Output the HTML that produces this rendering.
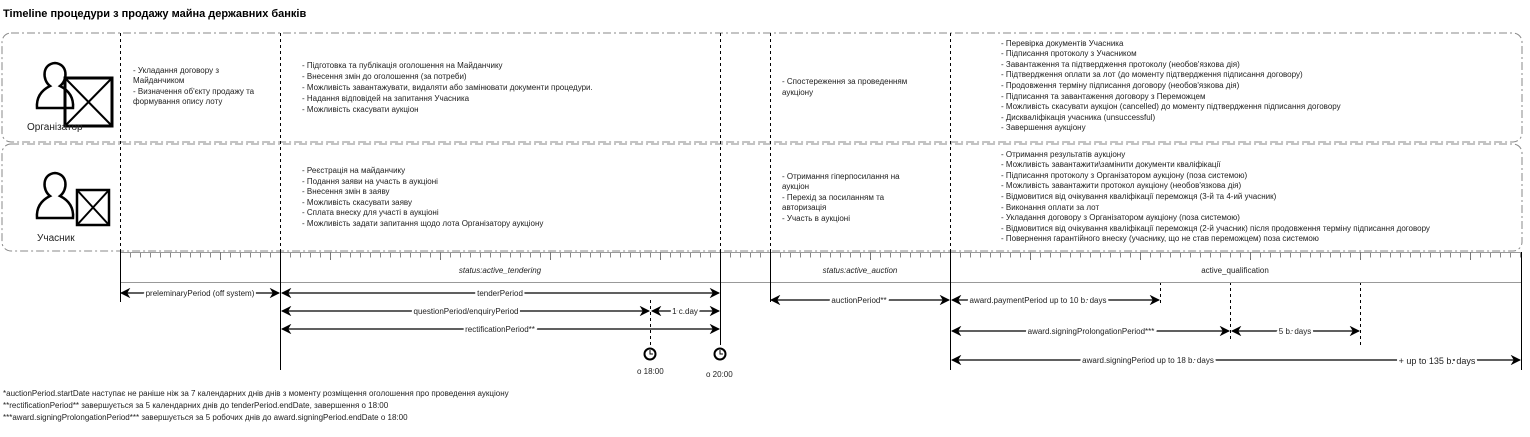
<!DOCTYPE html>
<html><head><meta charset="utf-8"><style>
body{margin:0;background:#fff}
svg{display:block;font-family:"Liberation Sans",Arial,sans-serif}
text{fill:#222;font-size:8px}
</style></head><body>
<svg width="1530" height="437" viewBox="0 0 1530 437" xmlns="http://www.w3.org/2000/svg">
<defs>
<marker id="a" viewBox="0 0 10 10" refX="9" refY="5" markerWidth="8" markerHeight="8" orient="auto-start-reverse"><path d="M0,0 L10,5 L0,10 L3,5z" fill="#000"/></marker>
</defs>
<text x="3" y="17" style="font-size:11px;font-weight:bold;fill:#000">Timeline процедури з продажу майна державних банків</text>
<rect x="2" y="33" width="1520" height="109" rx="9" fill="none" stroke="#888" stroke-dasharray="8,3,2,3"/>
<rect x="2" y="144" width="1520" height="107" rx="9" fill="none" stroke="#888" stroke-dasharray="8,3,2,3"/>
<g stroke="#000" stroke-dasharray="3,3" stroke-width="1">
<line x1="120.5" y1="33" x2="120.5" y2="252"/><line x1="280.5" y1="33" x2="280.5" y2="252"/>
<line x1="720.5" y1="33" x2="720.5" y2="252"/><line x1="770.5" y1="33" x2="770.5" y2="252"/>
<line x1="950.5" y1="33" x2="950.5" y2="252"/>
<line x1="650.5" y1="300" x2="650.5" y2="346"/><line x1="1160.5" y1="282" x2="1160.5" y2="305"/>
<line x1="1230.5" y1="282" x2="1230.5" y2="340"/><line x1="1360.5" y1="282" x2="1360.5" y2="346"/>
</g>
<line x1="120" y1="255" x2="1522" y2="255" stroke="#888" stroke-width="5" stroke-dasharray="1,9"/>
<g stroke="#999"><line x1="120" y1="252.5" x2="1522" y2="252.5"/><line x1="120" y1="282.5" x2="1522" y2="282.5"/></g>
<g stroke="#777"><line x1="220.5" y1="252" x2="220.5" y2="260"/><line x1="330.5" y1="252" x2="330.5" y2="260"/><line x1="440.5" y1="252" x2="440.5" y2="260"/><line x1="550.5" y1="252" x2="550.5" y2="260"/><line x1="660.5" y1="252" x2="660.5" y2="260"/><line x1="870.5" y1="252" x2="870.5" y2="260"/><line x1="1030.5" y1="252" x2="1030.5" y2="260"/><line x1="1140.5" y1="252" x2="1140.5" y2="260"/><line x1="1250.5" y1="252" x2="1250.5" y2="260"/><line x1="1360.5" y1="252" x2="1360.5" y2="260"/><line x1="1470.5" y1="252" x2="1470.5" y2="260"/></g>
<g stroke="#000">
<line x1="120.5" y1="252" x2="120.5" y2="302"/><line x1="280.5" y1="252" x2="280.5" y2="370"/>
<line x1="720.5" y1="252" x2="720.5" y2="345"/><line x1="770.5" y1="252" x2="770.5" y2="302"/>
<line x1="950.5" y1="252" x2="950.5" y2="370"/><line x1="1521.5" y1="252" x2="1521.5" y2="370"/>
</g>
<text x="500" y="273" text-anchor="middle" font-style="italic">status:active_tendering</text>
<text x="860" y="273" text-anchor="middle" font-style="italic">status:active_auction</text>
<text x="1235" y="273" text-anchor="middle">active_qualification</text>
<g stroke="#000" stroke-width="1.3" marker-start="url(#a)" marker-end="url(#a)">
<line x1="121" y1="293" x2="279" y2="293"/><line x1="282" y1="293" x2="719" y2="293"/>
<line x1="282" y1="311" x2="649" y2="311"/><line x1="652" y1="311" x2="719" y2="311"/>
<line x1="282" y1="329" x2="719" y2="329"/>
<line x1="771" y1="300" x2="949" y2="300"/><line x1="952" y1="300" x2="1159" y2="300"/>
<line x1="952" y1="331" x2="1229" y2="331"/><line x1="1232" y1="331" x2="1359" y2="331"/>
<line x1="952" y1="360" x2="1520" y2="360"/>
</g>
<g style="paint-order:stroke" stroke="#fff" stroke-width="4">
<text x="200" y="296" text-anchor="middle">preleminaryPeriod (off system)</text>
<text x="500" y="296" text-anchor="middle">tenderPeriod</text>
<text x="466" y="314" text-anchor="middle">questionPeriod/enquiryPeriod</text>
<text x="685" y="314" text-anchor="middle">1 c.day</text>
<text x="500" y="332" text-anchor="middle">rectificationPeriod**</text>
<text x="859" y="303" text-anchor="middle">auctionPeriod**</text>
<text x="1038" y="303" text-anchor="middle">award.paymentPeriod up to 10 b. days</text>
<text x="1091" y="334" text-anchor="middle">award.signingProlongationPeriod***</text>
<text x="1295" y="334" text-anchor="middle">5 b. days</text>
<text x="1148" y="363" text-anchor="middle">award.signingPeriod up to 18 b. days</text>
<text x="1437" y="364" text-anchor="middle" style="font-size:9px">+ up to 135 b. days</text>
</g>
<g fill="none" stroke="#000"><circle cx="650" cy="354" r="5.5" stroke-width="2"/><path d="M650,350v4h3"/>
<circle cx="720" cy="354" r="5.5" stroke-width="2"/><path d="M720,350v4h3"/></g>
<text x="637" y="374">о 18:00</text><text x="706" y="377">о 20:00</text>
<g fill="none" stroke="#000" stroke-width="2.5">
<path d="M37,108 C36,95 44,89 50,86 C42,80 42,64 55,63 C68,64 68,80 60,86 C66,89 74,95 73,108 Z"/>
<rect x="65" y="78" width="47" height="48" stroke-width="3"/><path d="M65,78L112,126M112,78L65,126" stroke-width="2"/>
<path d="M37,218 C36,205 44,199 50,196 C42,190 42,174 55,173 C68,174 68,190 60,196 C66,199 74,205 73,218 Z"/>
<rect x="77" y="190" width="32" height="35"/><path d="M77,190L109,225M109,190L77,225" stroke-width="2"/>
</g>
<text x="27" y="130" style="font-size:10px">Організатор</text>
<text x="37" y="241" style="font-size:10px">Учасник</text>
<g>
<text x="133" y="73">- Укладання договору з</text><text x="133" y="83">Майданчиком</text><text x="133" y="94">- Визначення об'єкту продажу та</text><text x="133" y="104">формування опису лоту</text>
<text x="302" y="68">- Підготовка та публікація оголошення на Майданчику</text>
<text x="302" y="79">- Внесення змін до оголошення (за потреби)</text>
<text x="302" y="90">- Можливість завантажувати, видаляти або замінювати документи процедури.</text>
<text x="302" y="101">- Надання відповідей на запитання Учасника</text>
<text x="302" y="112">- Можливість скасувати аукціон</text>
<text x="782" y="84">- Спостереження за проведенням</text><text x="782" y="95">аукціону</text>
<text x="1001" y="46">- Перевірка документів Учасника</text>
<text x="1001" y="56">- Підписання протоколу з Учасником</text>
<text x="1001" y="67">- Завантаження та підтвердження протоколу (необов'язкова дія)</text>
<text x="1001" y="77">- Підтвердження оплати за лот (до моменту підтвердження підписання договору)</text>
<text x="1001" y="88">- Продовження терміну підписання договору (необов'язкова дія)</text>
<text x="1001" y="99">- Підписання та завантаження договору з Переможцем</text>
<text x="1001" y="109">- Можливість скасувати аукціон (cancelled) до моменту підтвердження підписання договору</text>
<text x="1001" y="120">- Дискваліфікація учасника (unsuccessful)</text>
<text x="1001" y="130">- Завершення аукціону</text>
<text x="302" y="173">- Реєстрація на майданчику</text>
<text x="302" y="184">- Подання заяви на участь в аукціоні</text>
<text x="302" y="194">- Внесення змін в заяву</text>
<text x="302" y="205">- Можливість скасувати заяву</text>
<text x="302" y="215">- Сплата внеску для участі в аукціоні</text>
<text x="302" y="226">- Можливість задати запитання щодо лота Організатору аукціону</text>
<text x="782" y="179">- Отримання гіперпосилання на</text><text x="782" y="189">аукціон</text>
<text x="782" y="200">- Перехід за посиланням та</text><text x="782" y="210">авторизація</text><text x="782" y="221">- Участь в аукціоні</text>
<text x="1001" y="157">- Отримання результатів аукціону</text>
<text x="1001" y="167">- Можливість завантажити\замінити документи кваліфікації</text>
<text x="1001" y="178">- Підписання протоколу з Організатором аукціону (поза системою)</text>
<text x="1001" y="188">- Можливість завантажити протокол аукціону (необов'язкова дія)</text>
<text x="1001" y="199">- Відмовитися від очікування кваліфікації переможця (3-й  та 4-ий учасник)</text>
<text x="1001" y="210">- Виконання оплати за лот</text>
<text x="1001" y="220">- Укладання договору з Організатором аукціону (поза системою)</text>
<text x="1001" y="231">- Відмовитися від очікування кваліфікації переможця (2-й  учасник) після продовження терміну підписання договору</text>
<text x="1001" y="241">- Повернення гарантійного внеску (учаснику, що не став переможцем) поза системою</text>
<text x="3" y="396">*auctionPeriod.startDate наступає не раніше ніж за 7 календарних днів днів з моменту розміщення оголошення про проведення аукціону</text>
<text x="3" y="408">**rectificationPeriod** завершується за 5 календарних днів до tenderPeriod.endDate, завершення о 18:00</text>
<text x="3" y="420">***award.signingProlongationPeriod*** завершується за 5 робочих днів до award.signingPeriod.endDate о 18:00</text>
</g>
</svg>
</body></html>
